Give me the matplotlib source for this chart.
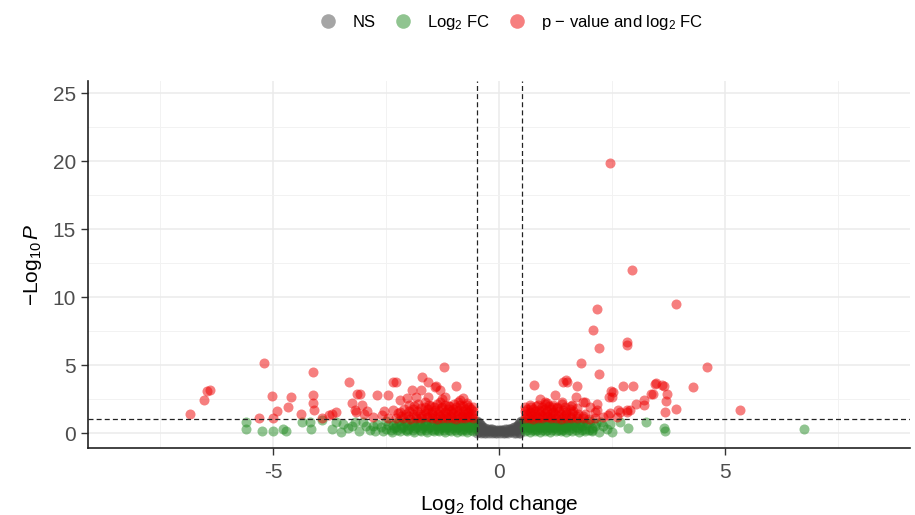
import matplotlib
matplotlib.use("Agg")
import matplotlib.pyplot as plt
from matplotlib.lines import Line2D

plt.rcParams['font.family'] = ['Liberation Sans', 'DejaVu Sans']
plt.rcParams['mathtext.fontset'] = 'custom'
plt.rcParams['mathtext.rm'] = 'Liberation Sans'
plt.rcParams['mathtext.it'] = 'Liberation Sans:italic'

# NS genes (|log2FC| < 0.5 and p >= 0.1)
ns_pts = [
    (-0.49, 0.92), (-0.47, 0.82), (-0.45, 0.72), (-0.43, 0.64), (-0.41, 0.56), (-0.38, 0.48),
    (-0.35, 0.42), (-0.31, 0.36), (-0.27, 0.32), (-0.23, 0.30), (-0.19, 0.28), (-0.15, 0.27),
    (-0.11, 0.26), (-0.07, 0.25), (-0.03, 0.25), (0.01, 0.25), (0.05, 0.25), (0.09, 0.26),
    (0.13, 0.27), (0.17, 0.28), (0.21, 0.30), (0.25, 0.32), (0.29, 0.36), (0.33, 0.42),
    (0.36, 0.48), (0.39, 0.55), (0.42, 0.63), (0.44, 0.72), (0.46, 0.82), (0.48, 0.92),
    (-0.48, 0.02), (-0.44, 0.05), (-0.40, 0.03), (-0.34, 0.01), (-0.28, 0.04), (-0.22, 0.02),
    (-0.16, 0.03), (-0.10, 0.01), (-0.04, 0.02), (0.02, 0.04), (0.08, 0.01), (0.14, 0.03),
    (0.20, 0.02), (0.26, 0.05), (0.32, 0.03), (0.38, 0.02), (0.43, 0.04), (0.47, 0.01),
    (-0.46, 0.45), (-0.42, 0.35), (-0.36, 0.22), (-0.30, 0.15), (-0.20, 0.12), (-0.12, 0.10),
    (0.00, 0.12), (0.12, 0.10), (0.24, 0.14), (0.34, 0.18), (0.40, 0.30), (0.45, 0.42),
    (-0.49, 0.60), (-0.47, 0.30), (-0.44, 0.15), (-0.38, 0.08), (-0.26, 0.18), (-0.17, 0.18),
    (-0.06, 0.15), (0.06, 0.18), (0.18, 0.08), (0.28, 0.20), (0.38, 0.25), (0.44, 0.15),
    (0.47, 0.30), (0.49, 0.60), (-0.40, 0.40), (0.41, 0.45),
]

# Log2 FC only (|log2FC| >= 0.5, p >= 0.1)
fc_pts = [
    # left dense band
    (-0.56, 0.86), (-0.68, 0.84), (-0.79, 0.88), (-0.91, 0.83), (-1.02, 0.87), (-1.14, 0.85),
    (-1.26, 0.89), (-1.38, 0.84), (-1.50, 0.86), (-1.63, 0.82), (-1.76, 0.88), (-1.90, 0.85),
    (-2.05, 0.83), (-2.22, 0.87),
    (-0.61, 0.73), (-0.73, 0.71), (-0.85, 0.75), (-0.97, 0.72), (-1.09, 0.74), (-1.21, 0.70),
    (-1.34, 0.73), (-1.47, 0.75), (-1.61, 0.71), (-1.75, 0.74), (-1.90, 0.72), (-2.08, 0.75),
    (-2.28, 0.71),
    (-0.60, 0.60), (-0.72, 0.63), (-0.84, 0.58), (-0.96, 0.62), (-1.08, 0.59), (-1.20, 0.61),
    (-1.33, 0.57), (-1.46, 0.63), (-1.60, 0.60), (-1.74, 0.58), (-1.88, 0.62), (-2.03, 0.59),
    (-2.18, 0.61), (-2.35, 0.57),
    (-0.55, 0.48), (-0.66, 0.46), (-0.78, 0.50), (-0.90, 0.47), (-1.01, 0.49), (-1.13, 0.45),
    (-1.25, 0.48), (-1.38, 0.50), (-1.52, 0.46), (-1.66, 0.49), (-1.81, 0.47), (-1.96, 0.50),
    (-2.12, 0.46), (-2.28, 0.48),
    (-0.57, 0.35), (-0.69, 0.37), (-0.81, 0.33), (-0.93, 0.36), (-1.05, 0.34), (-1.17, 0.38),
    (-1.30, 0.35), (-1.43, 0.32), (-1.57, 0.37), (-1.71, 0.34), (-1.86, 0.36), (-2.01, 0.33),
    (-2.17, 0.38), (-2.33, 0.35), (-2.50, 0.32),
    (-0.62, 0.23), (-0.74, 0.21), (-0.86, 0.25), (-0.98, 0.22), (-1.10, 0.24), (-1.22, 0.20),
    (-1.35, 0.23), (-1.48, 0.25), (-1.62, 0.21), (-1.76, 0.24), (-1.91, 0.22), (-2.07, 0.25),
    (-2.25, 0.21),
    (-0.58, 0.12), (-0.70, 0.10), (-0.82, 0.14), (-0.94, 0.11), (-1.06, 0.13), (-1.19, 0.10),
    (-1.32, 0.12), (-1.45, 0.14), (-1.59, 0.11), (-1.73, 0.13), (-1.88, 0.10), (-2.04, 0.12),
    (-2.20, 0.14), (-2.38, 0.11), (-2.58, 0.13),
    # left sparse
    (-2.62, 0.45), (-2.50, 0.90), (-2.75, 0.12), (-2.70, 0.70), (-2.85, 0.25), (-2.95, 0.55),
    (-3.02, 0.85), (-3.10, 0.15), (-3.20, 0.80), (-3.35, 0.35), (-3.50, 0.10), (-3.45, 0.65),
    (-3.70, 0.30), (-3.62, 0.85), (-3.92, 0.95), (-4.17, 0.30), (-4.19, 0.80), (-4.37, 0.80),
    (-4.72, 0.15), (-4.79, 0.30), (-5.00, 0.15), (-5.25, 0.15), (-5.59, 0.30), (-5.60, 0.80),
    (-2.45, 0.60), (-2.40, 0.20), (-2.80, 0.50), (-3.25, 0.55),
    # right dense band
    (0.56, 0.86), (0.67, 0.83), (0.78, 0.88), (0.89, 0.85), (1.00, 0.84), (1.11, 0.88),
    (1.22, 0.83), (1.34, 0.87), (1.46, 0.85), (1.58, 0.82), (1.71, 0.88), (1.85, 0.84),
    (0.61, 0.73), (0.72, 0.71), (0.83, 0.75), (0.94, 0.72), (1.05, 0.74), (1.17, 0.70),
    (1.29, 0.73), (1.41, 0.75), (1.53, 0.71), (1.66, 0.74), (1.80, 0.72), (1.95, 0.75),
    (0.60, 0.60), (0.71, 0.62), (0.82, 0.58), (0.93, 0.63), (1.04, 0.59), (1.15, 0.61),
    (1.27, 0.57), (1.39, 0.62), (1.51, 0.60), (1.64, 0.58), (1.78, 0.63), (1.92, 0.59),
    (0.55, 0.48), (0.66, 0.46), (0.77, 0.50), (0.88, 0.47), (0.99, 0.49), (1.10, 0.45),
    (1.21, 0.48), (1.33, 0.50), (1.45, 0.46), (1.57, 0.49), (1.70, 0.47), (1.84, 0.50),
    (0.57, 0.35), (0.68, 0.37), (0.79, 0.33), (0.90, 0.36), (1.01, 0.34), (1.12, 0.38),
    (1.24, 0.35), (1.36, 0.32), (1.48, 0.37), (1.61, 0.34), (1.75, 0.36), (1.90, 0.33),
    (2.05, 0.38),
    (0.62, 0.23), (0.73, 0.21), (0.84, 0.25), (0.95, 0.22), (1.06, 0.24), (1.18, 0.20),
    (1.30, 0.23), (1.42, 0.25), (1.55, 0.21), (1.69, 0.24), (1.83, 0.22), (1.98, 0.25),
    (0.58, 0.12), (0.69, 0.10), (0.80, 0.14), (0.91, 0.11), (1.02, 0.13), (1.13, 0.10),
    (1.25, 0.12), (1.37, 0.14), (1.49, 0.11), (1.62, 0.13), (1.76, 0.10), (1.91, 0.12),
    (2.06, 0.14),
    # right sparse
    (2.06, 0.20), (2.20, 0.10), (2.46, 0.65), (2.50, 0.10), (2.68, 0.80), (2.30, 0.50),
    (2.15, 0.75), (2.38, 0.30), (2.00, 0.90), (2.85, 0.40), (3.24, 0.80), (3.64, 0.37),
    (3.68, 0.15), (6.74, 0.30), (2.12, 0.55), (2.25, 0.85),
]

# p-value and log2 FC
sig_pts = [
    # left dense band
    (-0.57, 1.10), (-0.66, 1.15), (-0.75, 1.08), (-0.85, 1.12), (-0.95, 1.06), (-1.05, 1.14),
    (-1.15, 1.09), (-1.26, 1.13), (-1.37, 1.07), (-1.48, 1.11), (-1.60, 1.15), (-1.72, 1.08),
    (-1.85, 1.12), (-1.98, 1.06), (-2.12, 1.14), (-2.28, 1.09), (-2.45, 1.12),
    (-0.61, 1.25), (-0.72, 1.28), (-0.83, 1.23), (-0.94, 1.27), (-1.06, 1.24), (-1.18, 1.29),
    (-1.30, 1.22), (-1.43, 1.26), (-1.56, 1.28), (-1.70, 1.23), (-1.85, 1.27), (-2.01, 1.24),
    (-2.18, 1.28),
    (-0.60, 1.40), (-0.70, 1.45), (-0.80, 1.38), (-0.91, 1.42), (-1.02, 1.47), (-1.13, 1.39),
    (-1.24, 1.44), (-1.36, 1.41), (-1.48, 1.37), (-1.61, 1.46), (-1.75, 1.40), (-1.90, 1.43),
    (-2.06, 1.38), (-2.24, 1.45),
    (-0.57, 1.60), (-0.68, 1.58), (-0.80, 1.62), (-0.93, 1.59), (-1.06, 1.63), (-1.19, 1.57),
    (-1.33, 1.61), (-1.48, 1.58), (-1.64, 1.62), (-1.81, 1.59), (-2.00, 1.61), (-2.20, 1.58),
    (-0.62, 1.75), (-0.75, 1.80), (-0.88, 1.72), (-1.01, 1.78), (-1.14, 1.74), (-1.28, 1.81),
    (-1.42, 1.73), (-1.57, 1.77), (-1.73, 1.82), (-1.90, 1.74), (-2.10, 1.79),
    (-0.58, 1.95), (-0.66, 1.92), (-0.80, 1.97), (-0.95, 1.93), (-1.10, 1.96), (-1.27, 1.92),
    (-1.45, 1.95), (-1.65, 1.93), (-1.88, 1.96),
    (-0.71, 2.10), (-0.86, 2.05), (-1.00, 2.15), (-1.20, 2.08), (-1.38, 2.12), (-1.55, 2.06),
    (-1.80, 2.14), (-2.00, 2.09),
    # left scattered
    (-6.85, 1.40), (-6.53, 2.45), (-6.47, 3.10), (-6.40, 3.20), (-5.32, 1.10), (-5.20, 5.15),
    (-5.03, 2.70), (-5.00, 1.10), (-4.92, 1.60), (-4.68, 1.90), (-4.60, 2.65), (-4.39, 1.40),
    (-4.12, 4.50), (-4.12, 2.80), (-4.12, 2.20), (-4.10, 1.70), (-3.92, 1.10), (-3.77, 1.30),
    (-3.70, 1.40), (-3.60, 1.55), (-3.33, 3.75), (-3.26, 2.20), (-3.20, 1.70), (-3.17, 1.55),
    (-3.15, 2.85), (-3.08, 2.85), (-3.04, 2.05), (-2.93, 1.60), (-2.70, 2.80), (-2.46, 2.80),
    (-2.35, 3.75), (-2.29, 3.75), (-2.35, 1.70), (-2.04, 2.55), (-1.93, 3.20), (-1.84, 2.65),
    (-1.73, 3.15), (-1.70, 4.10), (-1.57, 3.75), (-1.57, 2.65), (-1.42, 3.40), (-1.40, 3.45),
    (-1.31, 3.15), (-1.31, 2.30), (-1.26, 2.50), (-1.22, 4.85), (-1.20, 2.65), (-0.95, 3.45),
    (-0.90, 2.30), (-0.86, 2.40), (-0.71, 2.20), (-2.60, 1.30), (-2.80, 1.20), (-3.00, 1.40),
    (-2.55, 1.60), (-2.20, 2.40), (-1.65, 2.30), (-1.10, 2.00), (-0.80, 2.60), (-1.50, 2.00),
    # right dense band
    (0.57, 1.10), (0.66, 1.14), (0.75, 1.07), (0.85, 1.12), (0.95, 1.08), (1.05, 1.15),
    (1.15, 1.09), (1.26, 1.13), (1.37, 1.06), (1.48, 1.11), (1.60, 1.14), (1.72, 1.08),
    (1.85, 1.12), (1.98, 1.07), (2.12, 1.13),
    (0.61, 1.25), (0.72, 1.28), (0.83, 1.23), (0.94, 1.27), (1.06, 1.24), (1.18, 1.29),
    (1.30, 1.22), (1.43, 1.26), (1.56, 1.28), (1.70, 1.23), (1.85, 1.27),
    (0.60, 1.40), (0.70, 1.46), (0.80, 1.38), (0.91, 1.43), (1.02, 1.47), (1.13, 1.39),
    (1.24, 1.44), (1.36, 1.41), (1.48, 1.37), (1.61, 1.45), (1.75, 1.40), (1.90, 1.43),
    (0.57, 1.60), (0.68, 1.58), (0.80, 1.62), (0.93, 1.59), (1.06, 1.63), (1.19, 1.57),
    (1.33, 1.61), (1.48, 1.58), (1.64, 1.62),
    (0.62, 1.75), (0.75, 1.80), (0.88, 1.72), (1.01, 1.78), (1.14, 1.74), (1.28, 1.81),
    (1.42, 1.73), (1.57, 1.77), (1.73, 1.82),
    (0.58, 1.95), (0.70, 1.92), (0.82, 1.97), (0.95, 1.93), (1.10, 1.96), (1.27, 1.92),
    (1.45, 1.95),
    (0.68, 2.10), (0.85, 2.05), (1.02, 2.15), (1.20, 2.08), (1.40, 2.12), (1.62, 2.06),
    # right scattered
    (0.78, 3.50), (0.90, 2.50), (1.02, 2.30), (1.06, 2.20), (1.24, 2.80), (1.40, 2.30),
    (1.42, 3.75), (1.50, 3.75), (1.49, 3.90), (1.73, 3.45), (1.69, 2.65), (1.86, 2.30),
    (1.91, 2.30), (1.82, 5.15), (2.20, 6.25), (2.20, 4.35), (2.17, 2.15), (2.17, 1.70),
    (2.13, 1.55), (2.46, 1.45), (2.40, 1.30), (2.48, 3.10), (2.53, 3.00), (2.50, 2.65),
    (2.42, 2.65), (2.75, 3.45), (2.97, 3.45), (2.62, 1.70), (2.68, 1.55), (2.84, 1.70),
    (2.84, 1.55), (2.90, 1.70), (3.02, 2.15), (3.20, 2.40), (3.20, 2.10), (3.37, 2.90),
    (3.40, 2.90), (3.44, 3.60), (3.46, 3.65), (3.60, 3.50), (3.64, 3.45), (3.72, 2.90),
    (3.70, 2.35), (3.68, 1.55), (3.92, 1.75), (4.28, 3.40), (4.60, 4.85), (5.32, 1.70),
    (2.08, 7.60), (2.17, 9.10), (2.84, 6.70), (2.84, 6.50), (2.95, 12.00), (3.92, 9.50),
    (2.46, 19.85), (1.20, 1.90), (1.60, 2.00), (2.00, 1.90), (2.30, 1.20), (2.60, 1.15),
]

fc_cut = 0.5
p_cut = 1.0  # -log10(0.1)

groups = [
    ('NS', ns_pts, '#4D4D4D'),
    (r'Log$_2$ FC', fc_pts, '#228B22'),
    (r'p $-$ value and log$_2$ FC', sig_pts, '#EE0000'),
]

fig = plt.figure(figsize=(9.15, 5.15), dpi=100)
ax = fig.add_axes([0.096, 0.13, 0.899, 0.713])

for name, pts, col in groups:
    xs = [p[0] for p in pts]
    ys = [p[1] for p in pts]
    ax.scatter(xs, ys, s=52, c=col, alpha=0.5, linewidths=0, zorder=3)

ax.axvline(-fc_cut, color='#222222', ls=(0, (4, 2.5)), lw=0.9, zorder=4)
ax.axvline(fc_cut, color='#222222', ls=(0, (4, 2.5)), lw=0.9, zorder=4)
ax.axhline(p_cut, color='#222222', ls=(0, (4, 2.5)), lw=0.9, zorder=4)

ax.set_xlim(-9.1, 9.1)
ax.set_ylim(-1.1, 25.9)
ax.set_xticks([-5, 0, 5])
ax.set_xticklabels(['-5', '0', '5'])
ax.set_yticks([0, 5, 10, 15, 20, 25])
ax.set_xticks([-7.5, -2.5, 2.5, 7.5], minor=True)
ax.set_yticks([2.5, 7.5, 12.5, 17.5, 22.5], minor=True)
ax.grid(which='major', color='#EBEBEB', lw=1.1, zorder=0)
ax.grid(which='minor', color='#F2F2F2', lw=0.7, zorder=0)
ax.tick_params(which='minor', length=0)
ax.tick_params(which='major', length=5, width=1, color='#333333', labelsize=15,
               labelcolor='#4D4D4D')
ax.tick_params(axis='x', pad=6)
ax.set_axisbelow(True)

for s in ['top', 'right']:
    ax.spines[s].set_visible(False)
for s in ['left', 'bottom']:
    ax.spines[s].set_linewidth(1.2)
    ax.spines[s].set_color('#222222')

ax.set_xlabel(r'Log$_2$ fold change', fontsize=15, labelpad=8)
ax.set_ylabel(r'$-\mathrm{Log}_{10}\,\mathit{P}$', fontsize=15, labelpad=6)

handles = [Line2D([], [], ls='', marker='o', ms=10.5, mfc=col, mec='none', alpha=0.5)
           for _, _, col in groups]
fig.legend(handles, [g[0] for g in groups], loc='center', bbox_to_anchor=(0.557, 0.957),
           ncol=3, frameon=False, fontsize=12, handletextpad=0.7, columnspacing=0.9,
           handlelength=1.5)

fig.savefig('out.png', dpi=100)
